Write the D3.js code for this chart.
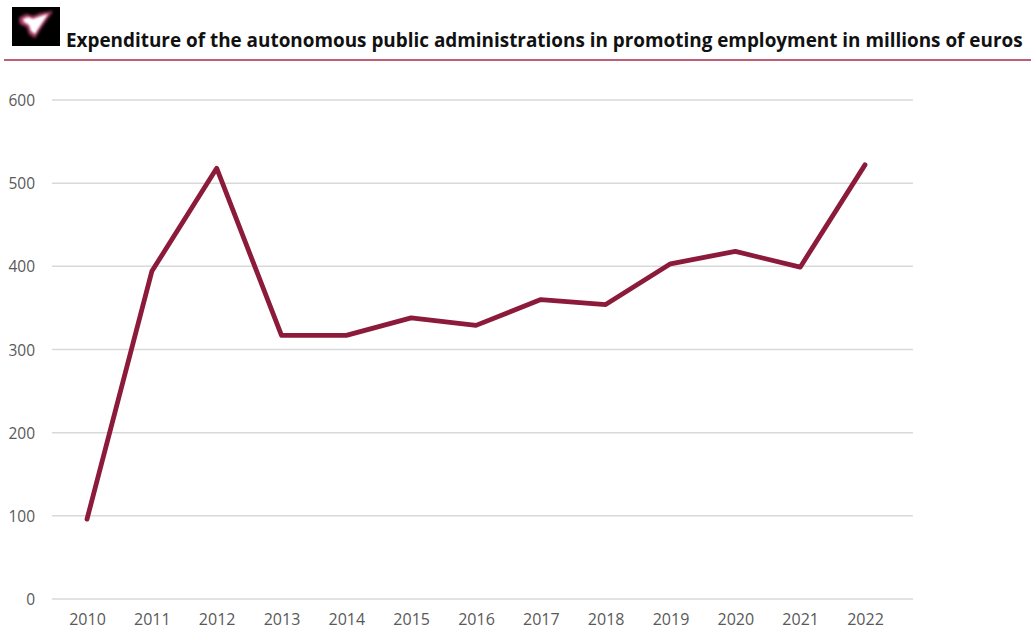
<!DOCTYPE html>
<html><head><meta charset="utf-8">
<script src="https://cdn.jsdelivr.net/npm/d3@7"></script>
<style>
body{margin:0;background:#fff;}
svg{display:block;font-family:"Open Sans",sans-serif;}
</style></head>
<body><svg id="c" width="1035" height="630"></svg>
<script>
const years = ["2010","2011","2012","2013","2014","2015","2016","2017","2018","2019","2020","2021","2022"];
const expenditure = [96, 394, 518, 317, 317, 338, 329, 360, 354, 403, 418, 399, 522];
const yTicks = [0, 100, 200, 300, 400, 500, 600];
const title = "Expenditure of the autonomous public administrations in promoting employment in millions of euros";

const svg = d3.select("#c");
const defs = svg.append("defs");
const f = defs.append("filter").attr("id","glow").attr("x","-50%").attr("y","-50%").attr("width","200%").attr("height","200%");
f.append("feGaussianBlur").attr("stdDeviation",1.5);
const f2 = defs.append("filter").attr("id","glow2").attr("x","-50%").attr("y","-50%").attr("width","200%").attr("height","200%");
f2.append("feGaussianBlur").attr("stdDeviation",0.8);

// logo
svg.append("rect").attr("x",12).attr("y",7).attr("width",48).attr("height",39).attr("fill","#000");
svg.append("path").attr("d","M19,18 L26,14 L33,16 L41,13 L53,11 L48,18 L41,28 L35,38 L29,34 L27,27 L20,24 Z")
  .attr("fill","#b3436d").attr("filter","url(#glow)");
svg.append("path").attr("d","M23,19 L28,17 L33,19 L41,16 L48,14 L44,20 L38,29 L35,34 L31,31 L29,25 L24,22 Z")
  .attr("fill","#fff").attr("filter","url(#glow2)");

svg.append("text").attr("x",66).attr("y",47).attr("font-size",18.9).attr("font-weight",700)
  .attr("fill","#111").text(title);
svg.append("line").attr("x1",4).attr("x2",1031).attr("y1",60).attr("y2",60)
  .attr("stroke","#a8294a").attr("stroke-width",1.3);

const x = d3.scalePoint().domain(years).range([87, 865]);
const y = d3.scaleLinear().domain([0, 600]).range([599, 100]);

const grid = svg.append("g");
grid.selectAll("line").data(yTicks).join("line")
  .attr("x1",52).attr("x2",913).attr("y1",d=>y(d)).attr("y2",d=>y(d))
  .attr("stroke","#d9d9d9").attr("stroke-width",1.5);

const yAxis = svg.append("g").attr("transform","translate(35,0)")
  .call(d3.axisLeft(y).tickValues(yTicks).tickSize(0).tickPadding(0));
yAxis.select(".domain").remove();
yAxis.selectAll("text").attr("font-size",15.5).attr("fill","#595959").attr("font-family","Open Sans, sans-serif").attr("dy","0.36em");

const xAxis = svg.append("g").attr("transform","translate(0,0)")
  .call(d3.axisBottom(x).tickSize(0).tickPadding(0));
xAxis.select(".domain").remove();
xAxis.selectAll("text").attr("font-size",16).attr("fill","#595959").attr("font-family","Open Sans, sans-serif")
  .attr("y",625).attr("dy",0);

const line = d3.line().x((d,i)=>x(years[i])).y(d=>y(d));
svg.append("path").datum(expenditure).attr("d",line).attr("fill","none")
  .attr("stroke","#8c1b3b").attr("stroke-width",4.8).attr("stroke-linejoin","round").attr("stroke-linecap","round");
</script></body></html>
